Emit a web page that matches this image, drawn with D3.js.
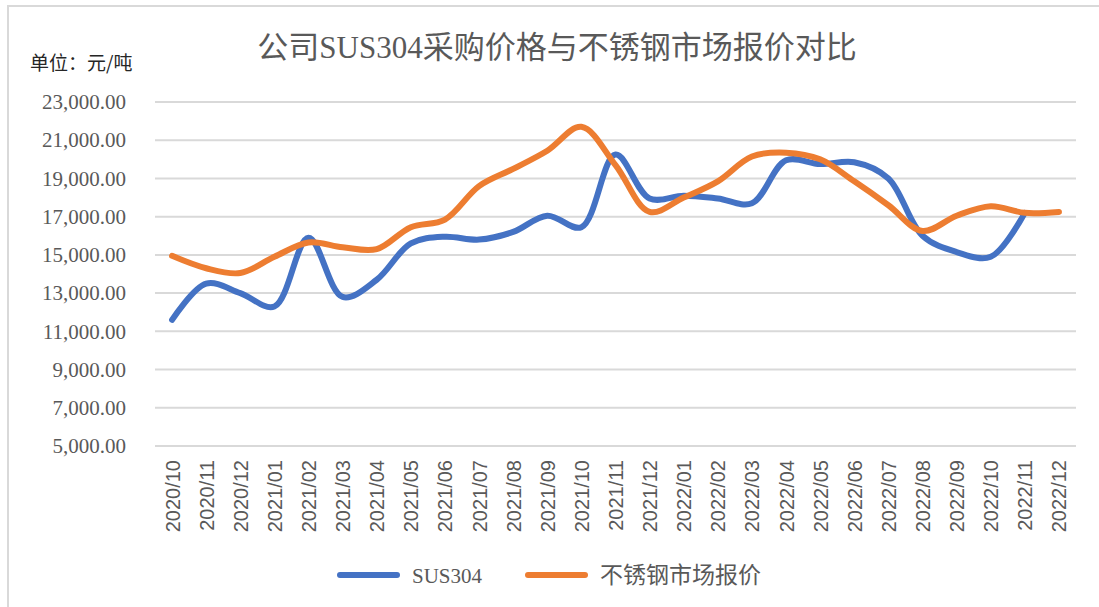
<!DOCTYPE html>
<html><head><meta charset="utf-8">
<script src="https://cdn.jsdelivr.net/npm/d3@7"></script>
<style>
html,body{margin:0;padding:0;background:#fff;}
svg{display:block;}
</style></head>
<body>
<svg id="chart" width="1099" height="607"></svg>
<script>
const categories = ["2020/10","2020/11","2020/12","2021/01","2021/02","2021/03","2021/04","2021/05","2021/06","2021/07","2021/08","2021/09","2021/10","2021/11","2021/12","2022/01","2022/02","2022/03","2022/04","2022/05","2022/06","2022/07","2022/08","2022/09","2022/10","2022/11","2022/12"];
const sus304 = [11600,13500,13000,12300,15900,12800,13700,15600,15950,15800,16200,17050,16450,20250,17950,18100,17950,17700,19950,19750,19850,19000,16000,15150,14900,17200,null];
const market = [14950,14300,14050,14900,15650,15400,15300,16450,16850,18600,19500,20450,21700,19700,17250,18000,18850,20150,20350,20000,18850,17600,16250,17050,17550,17200,17250];
const yTicks = [5000,7000,9000,11000,13000,15000,17000,19000,21000,23000];
const seriesNames = ["SUS304","不锈钢市场报价"];
const colors = ["#4472C4","#ED7D31"];

const svg = d3.select("#chart");
// border
svg.append("path").attr("d","M8,607 V6 H1099").attr("fill","none").attr("stroke","#d9d9d9").attr("stroke-width",2);

const x = d3.scalePoint().domain(categories).range([155,1076]).padding(0.5);
const y = d3.scaleLinear().domain([5000,23000]).range([446,102]);

// title
svg.append("text").attr("x",557).attr("y",58).attr("text-anchor","middle")
  .attr("font-family","'Liberation Serif','Noto Sans CJK SC',serif").attr("font-size",31)
  .attr("fill","#595959").text("公司SUS304采购价格与不锈钢市场报价对比");
svg.append("text").attr("x",30).attr("y",70)
  .attr("font-family","'Noto Sans CJK SC',sans-serif").attr("font-size",19)
  .attr("fill","#262626").text("单位：元/吨");

// grid
svg.append("g").selectAll("line").data(yTicks).join("line")
  .attr("x1",155).attr("x2",1076).attr("y1",d=>y(d)).attr("y2",d=>y(d))
  .attr("stroke","#d9d9d9").attr("stroke-width",2);

// y axis
const yAxis = svg.append("g").attr("transform","translate(140,0)")
  .call(d3.axisLeft(y).tickValues(yTicks).tickFormat(d3.format(",.2f")).tickSize(0).tickPadding(14));
yAxis.select(".domain").remove();
yAxis.selectAll("text").attr("font-family","'Liberation Serif',serif").attr("font-size",21).attr("fill","#595959");

// x axis
const xAxis = svg.append("g").attr("transform","translate(0,446)")
  .call(d3.axisBottom(x).tickSize(0).tickPadding(0));
xAxis.select(".domain").remove();
xAxis.selectAll("text")
  .attr("font-family","'Liberation Sans',sans-serif").attr("font-size",20).attr("fill","#595959")
  .attr("text-anchor","end").attr("dy","0.35em")
  .attr("transform","translate(0,14) rotate(-90)").attr("x",0).attr("y",0);

// lines
const line = d3.line().defined(d=>d!=null).x((d,i)=>x(categories[i])).y(d=>y(d)).curve(d3.curveCatmullRom.alpha(0.5));
[sus304, market].forEach((s,k)=>{
  svg.append("path").attr("d",line(s)).attr("fill","none").attr("stroke",colors[k])
    .attr("stroke-width",6).attr("stroke-linecap","round").attr("stroke-linejoin","round");
});

// legend
const lg = [{x:340,tx:412},{x:528,tx:600}];
seriesNames.forEach((n,k)=>{
  svg.append("line").attr("x1",lg[k].x).attr("x2",lg[k].x+57).attr("y1",575).attr("y2",575)
    .attr("stroke",colors[k]).attr("stroke-width",6).attr("stroke-linecap","round");
  svg.append("text").attr("x",lg[k].tx).attr("y",583)
    .attr("font-family","'Liberation Serif','Noto Sans CJK SC',serif").attr("font-size",k===0?21:23)
    .attr("fill","#595959").text(n);
});
</script>
</body></html>
